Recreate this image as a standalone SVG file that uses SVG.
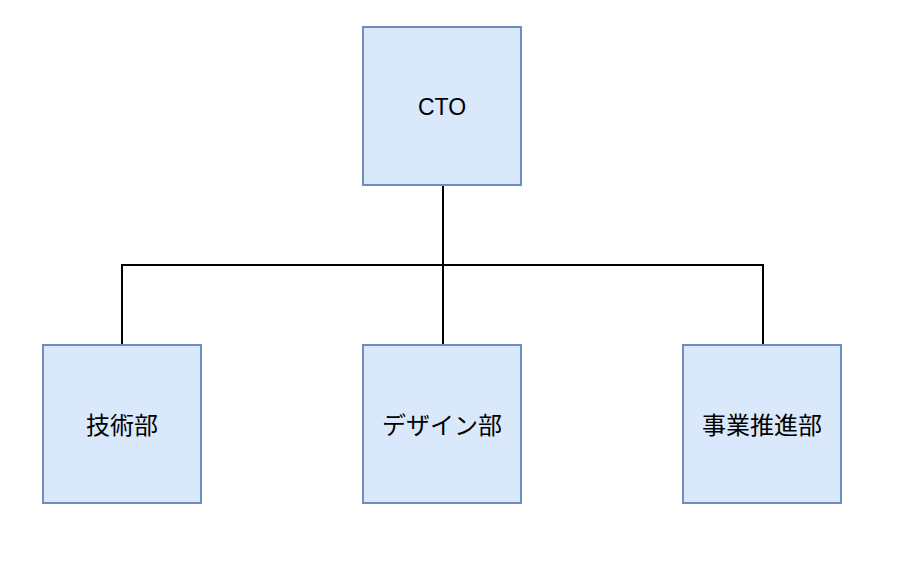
<svg xmlns="http://www.w3.org/2000/svg" width="904" height="572" viewBox="0 0 904 572">
<style>
.box{fill:#dae8fc;stroke:#6c8ebf;stroke-width:2}
.lbl{font-family:"Liberation Sans","Noto Sans CJK JP",sans-serif;font-size:24px;fill:#000;text-anchor:middle;dominant-baseline:central}
.conn{fill:none;stroke:#000;stroke-width:2}
</style>
<rect width="904" height="572" fill="#fff"/>
<g id="connectors">
<path class="conn" d="M443,186 V265 M122,345 V265 H763 V345 M443,265 V345"/>
</g>
<g id="cto"><rect class="box" x="363" y="27" width="158" height="158"/><text class="lbl" x="442" y="107" style="font-size:23px">CTO</text></g>
<g id="tech"><rect class="box" x="43" y="345" width="158" height="158"/><text class="lbl" x="122" y="425">技術部</text></g>
<g id="design"><rect class="box" x="363" y="345" width="158" height="158"/><text class="lbl" x="442" y="425">デザイン部</text></g>
<g id="biz"><rect class="box" x="683" y="345" width="158" height="158"/><text class="lbl" x="762" y="425">事業推進部</text></g>
</svg>
